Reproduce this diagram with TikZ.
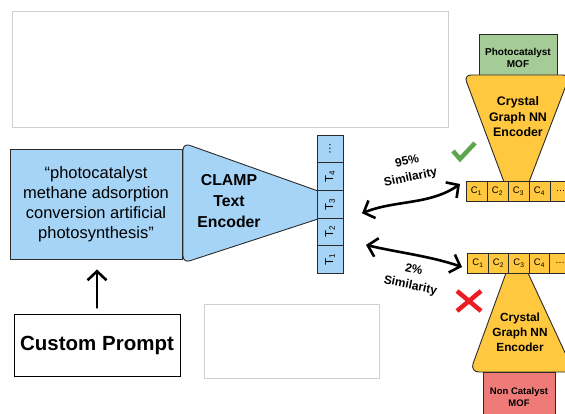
\documentclass[tikz,border=0pt]{standalone}
\usepackage{fontspec}
\setmainfont{Liberation Sans}
\usetikzlibrary{arrows.meta, calc}
\definecolor{my_blue}{HTML}{A6D4F6}
\definecolor{my_yellow}{HTML}{FFC83F}
\definecolor{my_green}{HTML}{A5CB97}
\definecolor{my_red}{HTML}{EE7B78}
\definecolor{my_frame}{HTML}{CFCFCF}
\definecolor{my_line}{HTML}{2B2B2B}
\definecolor{my_check}{HTML}{5DA64E}
\definecolor{my_cross}{HTML}{EC1C24}
\newcommand{\fsz}[2]{\fontsize{#1}{#2}\selectfont}

\begin{document}
\begin{tikzpicture}[
    x=1pt, y=-1pt,
    outline/.style={draw=my_line, line width=0.9pt},
    placeholder/.style={draw=my_frame, line width=0.8pt, inner sep=0pt},
    tokcell/.style={outline, fill=my_blue, rotate=90, minimum width=27.6pt,
        minimum height=26pt, inner sep=0pt, font=\fsz{11.5}{12}},
    crycell/.style={outline, fill=my_yellow, minimum width=21pt,
        minimum height=20pt, inner sep=0pt, font=\fsz{9.5}{10}},
    simlabel/.style={align=center, font=\bfseries\fsz{12}{16.5}},
    handarrow/.style={line width=2.6pt, line cap=round, line join=round,
        -{Straight Barb[length=9pt, width=19pt]}},
    simarrow/.style={handarrow,
        {Straight Barb[length=9pt, width=19pt]}-{Straight Barb[length=9pt, width=19pt]}}
]

% Zeichenfläche (Bildkoordinaten, y nach unten)
\clip (0,0) rectangle (565,414);
\fill[white] (0,0) rectangle (565,414);

% ----------------------------------------------------------
% leere Platzhalter
% ----------------------------------------------------------
\node[placeholder, minimum width=436pt, minimum height=116pt] (leer_oben) at (230,69) {};
\node[placeholder, minimum width=175pt, minimum height=74pt] (leer_unten) at (291.5,341) {};

% ----------------------------------------------------------
% Prompt und Text-Encoder
% ----------------------------------------------------------
\node[outline, fill=my_blue, minimum width=172pt, minimum height=110pt,
      align=center, font=\fsz{16.5}{20}] (prompt) at (96,204)
    {“photocatalyst\\methane adsorption\\conversion artificial\\photosynthesis”};

\draw[outline, fill=my_blue]
    (318,191) [rounded corners=7pt] -- (183,143) -- (183,263)
    [sharp corners] -- (318,219) -- cycle;
\node[align=center, font=\bfseries\fsz{15.8}{21}] (clamp) at (229,201)
    {CLAMP\\Text\\Encoder};

% Token-Spalte T_1 ... T_4
\foreach \lab [count=\i] in {T\textsubscript{1}, T\textsubscript{2},
        T\textsubscript{3}, T\textsubscript{4}, …} {
    \node[tokcell] (tok\i) at (330,{259.5-27.6*(\i-1)}) {\lab};
}

% Custom Prompt mit Pfeil nach oben
\node[draw=black, line width=0.9pt, minimum width=166pt, minimum height=62pt,
      font=\bfseries\fsz{20.5}{24}] (custom) at (97,345) {Custom Prompt};
\draw[handarrow, shorten <=6pt, shorten >=10pt]
    (custom.north) -- (custom.north |- prompt.south);

% ----------------------------------------------------------
% oberer Zweig: Photocatalyst MOF
% ----------------------------------------------------------
\node[outline, fill=my_green, minimum width=78pt, minimum height=48pt,
      align=center, font=\bfseries\fsz{10}{12}] (mof_photo) at (518,58)
    {Photocatalyst\\MOF};
\draw[outline, fill=my_yellow]
    (504,182) [rounded corners=7pt] -- (464,75) -- (570,75)
    [sharp corners] -- (529,182) -- cycle;
\node[align=center, font=\bfseries\fsz{12.4}{15.5}] (cgnn_oben) at (518,117)
    {Crystal\\Graph NN\\Encoder};
\foreach \lab [count=\i] in {C\textsubscript{1}, C\textsubscript{2},
        C\textsubscript{3}, C\textsubscript{4}, …} {
    \node[crycell] (cpos\i) at ({476.5+21*(\i-1)},191) {\lab};
}
\draw[my_check, line width=4.5pt] (453,151) -- (460,159) -- (475,143);

% ----------------------------------------------------------
% unterer Zweig: Non Catalyst MOF
% ----------------------------------------------------------
\draw[outline, fill=my_yellow]
    (528,273) [rounded corners=9pt] -- (574,372) -- (470,372)
    [sharp corners] -- (506,273) -- cycle;
\node[outline, fill=my_red, minimum width=72pt, minimum height=50pt,
      align=center, font=\bfseries\fsz{9.5}{11.5}] (mof_non) at (519,397)
    {Non Catalyst\\MOF};
\node[align=center, font=\bfseries\fsz{11.8}{15}] (cgnn_unten) at (520,332)
    {Crystal\\Graph NN\\Encoder};
\foreach \lab [count=\i] in {C\textsubscript{1}, C\textsubscript{2},
        C\textsubscript{3}, C\textsubscript{4}, …} {
    \node[crycell] (cneg\i) at ({478+20.5*(\i-1)},263) {\lab};
}
\draw[my_cross, line width=4.5pt] (457,291) -- (481,311) (481,291) -- (457,311);

% ----------------------------------------------------------
% Ähnlichkeitspfeile
% ----------------------------------------------------------
\coordinate (s95_l) at ($(tok3)+(32,9)$);
\coordinate (s95_r) at ($(cpos1)+(-16.5,-7)$);
\coordinate (s2_l)  at ($(tok2)+(36,13)$);
\coordinate (s2_r)  at ($(cneg1)+(-16,4)$);

\draw[simarrow] (s95_l) .. controls (395,200) and (430,205) .. (s95_r);
\draw[simarrow] (s2_l) .. controls (395,252) and (430,256) .. (s2_r);

\node[simlabel, rotate=12]  (sim_oben)  at (409,170) {95\%\\Similarity};
\node[simlabel, rotate=-12] (sim_unten) at (412,278) {2\%\\Similarity};

\end{tikzpicture}
\end{document}
